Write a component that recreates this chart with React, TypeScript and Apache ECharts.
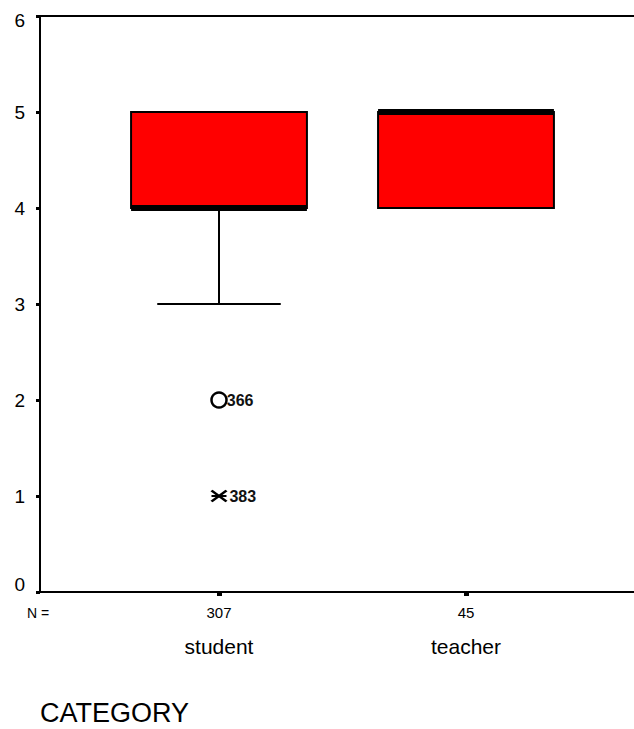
import React, { useEffect, useRef } from "react";
import * as echarts from "echarts";

// ---- data ----
const categories = ["student", "teacher"];
const counts = [307, 45];
const q1 = [4, 4];
const medians = [4, 5];
const q3 = [5, 5];
const whiskerLow = [3, 4];
const whiskerHigh = [5, 5];
const outlierPoints = [[1, 2]];
const outlierLabels = ["366"];
const extremePoints = [[1, 1]];
const extremeLabels = ["383"];

const FONT = "'Liberation Sans', Arial, Helvetica, sans-serif";
const BOX_W = 0.712;
const CAP_W = 0.5;

export default function App() {
  const ref = useRef<HTMLDivElement>(null);
  useEffect(() => {
    if (!ref.current) return;
    const chart = echarts.init(ref.current, null, { renderer: "svg" });
    const boxData = categories.map((_, i) => [
      i + 1,
      q1[i],
      medians[i],
      q3[i],
      whiskerLow[i],
      whiskerHigh[i],
    ]);
    const option: any = {
      animation: false,
      backgroundColor: "#ffffff",
      grid: { left: 40, right: 0, top: 16, bottom: 137, containLabel: false },
      xAxis: [
        {
          type: "value",
          min: 0.2753,
          max: 2.6802,
          position: "bottom",
          axisLine: { show: true, lineStyle: { color: "#000", width: 2 } },
          axisTick: {
            show: true,
            customValues: [1, 2],
            length: 4,
            inside: false,
            lineStyle: { color: "#000", width: 5 },
          },
          axisLabel: {
            show: true,
            customValues: [1, 2],
            margin: 10,
            formatter: (v: number) => {
              const i = Math.round(v) - 1;
              return `{n|${counts[i]}}\n{c|${categories[i]}}`;
            },
            rich: {
              n: { fontSize: 15, lineHeight: 20, color: "#000", fontFamily: FONT },
              c: { fontSize: 21, lineHeight: 48, color: "#000", fontFamily: FONT },
            },
          },
          splitLine: { show: false },
        },
        {
          type: "value",
          min: 0.2753,
          max: 2.6802,
          position: "top",
          axisLine: { show: true, lineStyle: { color: "#000", width: 2 } },
          axisTick: { show: false },
          axisLabel: { show: false },
          splitLine: { show: false },
        },
      ],
      yAxis: {
        type: "value",
        min: 0,
        max: 6,
        interval: 1,
        axisLine: { show: true, lineStyle: { color: "#000", width: 2 } },
        axisTick: { show: true, length: 4, lineStyle: { color: "#000", width: 3 } },
        axisLabel: {
          margin: 15,
          color: "#000",
          fontSize: 19,
          fontFamily: FONT,
          formatter: (v: number) => (v === 0 ? `{z|0}` : v === 6 ? `{t|6}` : `${v}`),
          rich: {
            z: { fontSize: 19, fontFamily: FONT, color: "#000", padding: [0, 0, 16, 0] },
            t: { fontSize: 19, fontFamily: FONT, color: "#000", padding: [8, 0, 0, 0] },
          },
        },
        splitLine: { show: false },
      },
      series: [
        {
          type: "custom",
          xAxisIndex: 0,
          data: boxData,
          renderItem: (params: any, api: any) => {
            const x = api.value(0);
            const pQ1 = api.coord([x, api.value(1)]);
            const pMed = api.coord([x, api.value(2)]);
            const pQ3 = api.coord([x, api.value(3)]);
            const pLow = api.coord([x, api.value(4)]);
            const pHigh = api.coord([x, api.value(5)]);
            const half = api.size([BOX_W, 0])[0] / 2;
            const capHalf = api.size([CAP_W, 0])[0] / 2;
            const cx = pQ1[0];
            const stroke = { stroke: "#000", lineWidth: 2 };
            const children: any[] = [];
            if (pLow[1] > pQ1[1] + 0.5) {
              children.push({
                type: "line",
                shape: { x1: cx, y1: pQ1[1], x2: cx, y2: pLow[1] },
                style: stroke,
              });
              children.push({
                type: "line",
                shape: { x1: cx - capHalf, y1: pLow[1], x2: cx + capHalf, y2: pLow[1] },
                style: stroke,
              });
            }
            if (pHigh[1] < pQ3[1] - 0.5) {
              children.push({
                type: "line",
                shape: { x1: cx, y1: pQ3[1], x2: cx, y2: pHigh[1] },
                style: stroke,
              });
              children.push({
                type: "line",
                shape: { x1: cx - capHalf, y1: pHigh[1], x2: cx + capHalf, y2: pHigh[1] },
                style: stroke,
              });
            }
            children.push({
              type: "rect",
              shape: { x: cx - half, y: pQ3[1], width: half * 2, height: pQ1[1] - pQ3[1] },
              style: { fill: "#ff0000", stroke: "#000", lineWidth: 2 },
            });
            children.push({
              type: "line",
              shape: { x1: cx - half, y1: pMed[1], x2: cx + half, y2: pMed[1] },
              style: { stroke: "#000", lineWidth: 6 },
            });
            return { type: "group", children };
          },
          z: 2,
        },
        {
          type: "scatter",
          data: outlierPoints,
          symbol: "circle",
          symbolSize: 15,
          itemStyle: { color: "#fff", borderColor: "#000", borderWidth: 2.5, opacity: 1 },
          label: {
            show: true,
            position: "right",
            distance: -1,
            formatter: (p: any) => outlierLabels[p.dataIndex],
            fontSize: 16,
            fontWeight: "bold",
            color: "#111",
            fontFamily: FONT,
          },
          z: 3,
        },
        {
          type: "scatter",
          data: extremePoints,
          symbol: "path://M0 0L20 20M20 0L0 20M0 10L20 10",
          symbolSize: [15, 11],
          symbolKeepAspect: false,
          itemStyle: { color: "none", borderColor: "#000", borderWidth: 2.5, opacity: 1 },
          label: {
            show: true,
            position: "right",
            distance: 0,
            formatter: (p: any) => extremeLabels[p.dataIndex],
            fontSize: 16,
            fontWeight: "bold",
            color: "#111",
            fontFamily: FONT,
          },
          z: 3,
        },
      ],
      graphic: [
        {
          type: "text",
          left: 27,
          top: 606,
          style: { text: "N =", fontSize: 14, fill: "#000", fontFamily: FONT },
        },
        {
          type: "text",
          left: 40,
          top: 699,
          style: { text: "CATEGORY", fontSize: 27, fill: "#000", fontFamily: FONT },
        },
      ],
    };
    chart.setOption(option);
    return () => chart.dispose();
  }, []);
  return <div ref={ref} style={{ width: 634, height: 729, position: "absolute", left: 0, top: 0 }} />;
}
